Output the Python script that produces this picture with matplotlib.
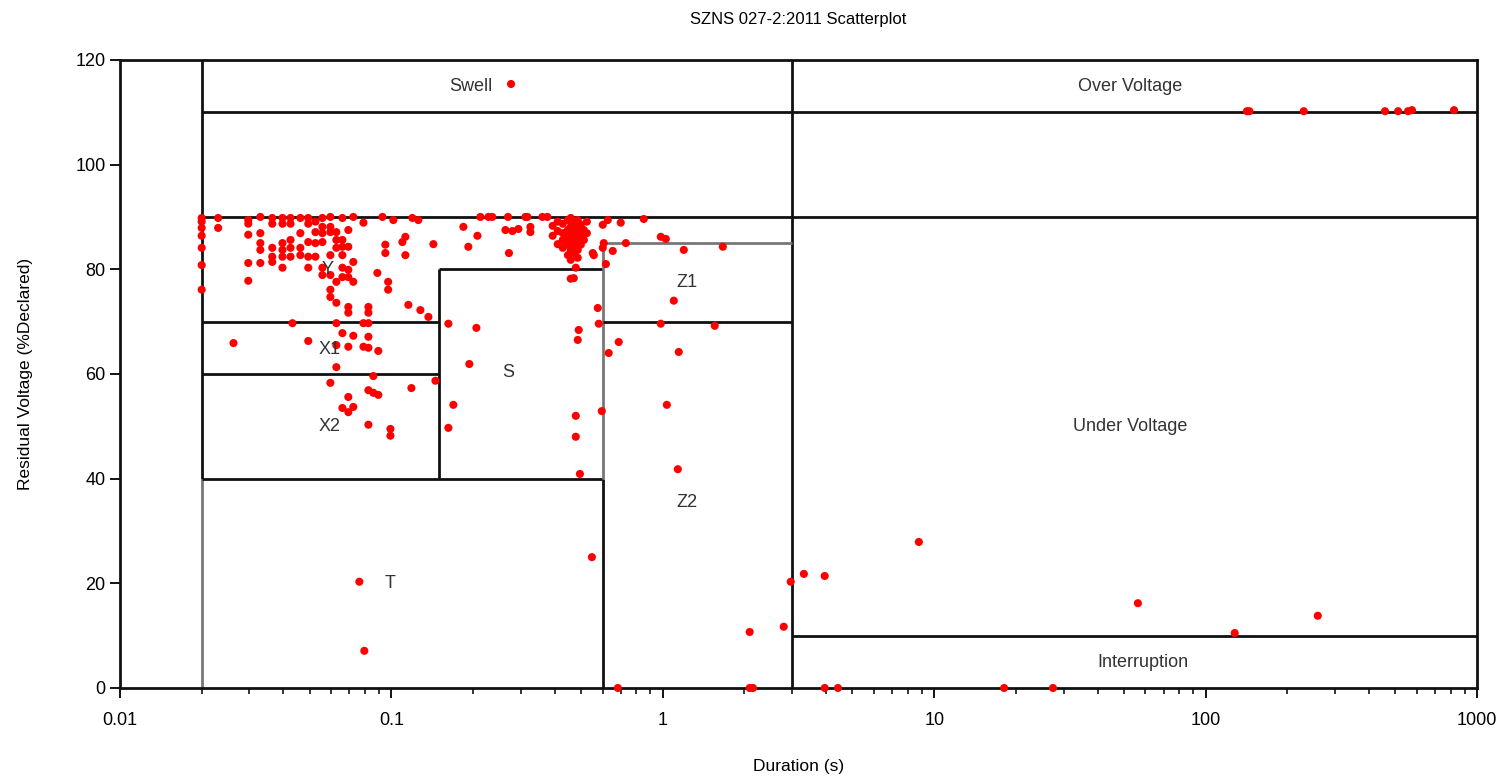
import numpy as np
import matplotlib.pyplot as plt

plt.rcParams['font.family'] = ['Liberation Sans', 'DejaVu Sans']

# event durations (s) and residual voltages (% declared)
dur = [
    0.02, 0.02, 0.02, 0.02, 0.02, 0.02, 0.02,
    0.023, 0.023, 0.0262,
    0.0297, 0.0297, 0.0297, 0.0297, 0.0297,
    0.0329, 0.0329, 0.0329, 0.0329, 0.0329,
    0.0364, 0.0364, 0.0364, 0.0364, 0.0364,
    0.0397, 0.0397, 0.0397, 0.0397, 0.0397, 0.0397,
    0.0425, 0.0425, 0.0425, 0.0425, 0.0425, 0.0432,
    0.0462, 0.0462, 0.0462, 0.0462,
    0.0494, 0.0494, 0.0494, 0.0494, 0.0494, 0.0494,
    0.0525, 0.0525, 0.0525, 0.0525,
    0.0557, 0.0557, 0.0557, 0.0557, 0.0557, 0.0557,
    0.0596, 0.0596, 0.0596, 0.0596, 0.0596, 0.0596, 0.0596, 0.0596,
    0.0627, 0.0627, 0.0627, 0.0627, 0.0627, 0.0627, 0.0627, 0.0627,
    0.066, 0.066, 0.066, 0.066, 0.066, 0.066, 0.066, 0.066,
    0.0694, 0.0694, 0.0694, 0.0694, 0.0694, 0.0694, 0.0694, 0.0694, 0.0694,
    0.0724, 0.0724, 0.0724, 0.0724, 0.0724,
    0.0762, 0.0789, 0.0789, 0.0789, 0.0795,
    0.0823, 0.0823, 0.0823, 0.0823, 0.0823, 0.0823, 0.0823,
    0.0858, 0.0858, 0.0888, 0.0895, 0.0895, 0.0927, 0.095, 0.095,
    0.0973, 0.0973, 0.0992, 0.0992, 0.1017, 0.1098, 0.1126, 0.1126,
    0.1155, 0.1185, 0.1195, 0.1257, 0.1279, 0.1369, 0.1428, 0.1453,
    0.1622, 0.1622, 0.1692, 0.1842, 0.1921, 0.1937, 0.2057, 0.2075,
    0.2128, 0.2278, 0.2354, 0.2631, 0.269, 0.2711, 0.2792, 0.2938,
    0.3118, 0.3172, 0.3252, 0.3252, 0.3601, 0.3757,
    0.393, 0.393, 0.41, 0.41, 0.41,
    0.428, 0.428, 0.428, 0.428,
    0.447, 0.447, 0.447, 0.447, 0.447,
    0.458, 0.458, 0.458, 0.458, 0.458, 0.458, 0.458,
    0.47, 0.47, 0.47, 0.47, 0.47, 0.47,
    0.478, 0.478, 0.478, 0.478, 0.478, 0.478,
    0.486, 0.486, 0.486, 0.486, 0.486, 0.486,
    0.499, 0.499, 0.499, 0.512, 0.512, 0.525, 0.525,
    0.49, 0.495, 0.548, 0.552, 0.557, 0.576, 0.581, 0.596,
    0.601, 0.601, 0.606, 0.617, 0.627, 0.632, 0.654, 0.683, 0.688,
    0.7, 0.731, 0.851, 0.983, 0.983, 1.026, 1.035, 1.098, 1.136,
    1.145, 1.195, 1.554, 1.664, 2.09, 2.09, 2.15, 2.79, 2.96,
    3.31, 3.95, 3.95, 4.42, 8.78, 18.1, 27.4, 56.3, 128, 259,
    142, 145, 230, 458, 512, 557, 576, 823, 0.276,
]
volt = [
    89.8, 89.1, 87.9, 86.4, 84.1, 80.8, 76.1,
    89.8, 87.9, 65.9,
    89.4, 88.7, 86.6, 81.2, 77.8,
    90.0, 86.9, 85.0, 83.7, 81.2,
    89.8, 88.7, 84.1, 82.4, 81.4,
    89.8, 88.7, 85.0, 83.7, 82.4, 80.3,
    89.8, 88.7, 85.6, 84.1, 82.4, 69.7,
    89.8, 86.9, 84.1, 82.7,
    89.8, 88.7, 85.2, 82.4, 80.3, 66.3,
    89.1, 87.1, 85.0, 82.4,
    89.8, 88.1, 86.9, 85.2, 80.3, 78.9,
    90.0, 88.1, 87.1, 82.7, 78.9, 76.1, 74.7, 58.3,
    87.1, 85.6, 84.1, 77.6, 73.6, 69.7, 65.5, 61.3,
    89.8, 85.6, 84.3, 82.7, 80.3, 78.5, 67.8, 53.5,
    87.5, 84.3, 79.9, 78.5, 72.8, 71.7, 65.2, 55.6, 52.7,
    90.0, 81.4, 77.6, 67.3, 53.7,
    20.3, 88.9, 69.7, 65.2, 7.1,
    72.8, 71.7, 69.7, 67.1, 65.0, 56.9, 50.3,
    59.6, 56.4, 79.3, 64.4, 56.0, 90.0, 84.7, 83.1,
    77.6, 76.1, 49.5, 48.2, 89.4, 85.2, 86.2, 82.7,
    73.2, 57.3, 89.8, 89.4, 72.2, 70.9, 84.8, 58.7,
    69.6, 49.7, 54.1, 88.1, 84.3, 61.9, 68.8, 86.4,
    90.0, 90.0, 90.0, 87.5, 90.0, 83.1, 87.3, 87.7,
    90.0, 90.0, 88.1, 87.1, 90.0, 90.0,
    88.3, 86.4, 89.1, 87.3, 84.8,
    88.7, 86.9, 85.6, 84.1,
    89.4, 87.5, 86.0, 84.7, 82.7,
    89.8, 88.1, 86.6, 85.0, 83.7, 81.8, 78.2,
    89.1, 87.1, 85.6, 84.3, 83.1, 78.3,
    87.9, 86.4, 84.8, 80.3, 52.0, 48.0,
    89.4, 87.5, 85.6, 83.7, 82.2, 66.5,
    88.5, 86.6, 84.7, 87.5, 85.6, 86.9, 89.1,
    68.4, 40.9, 25.0, 83.1, 82.7, 72.6, 69.6, 52.9,
    88.5, 84.1, 85.0, 81.0, 89.4, 64.0, 83.5, 0.0, 66.1,
    88.9, 85.0, 89.6, 86.2, 69.6, 85.8, 54.1, 74.0, 41.8,
    64.2, 83.7, 69.2, 84.3, 10.7, 0.0, 0.0, 11.7, 20.3,
    21.8, 21.4, 0.0, 0.0, 27.9, 0.0, 0.0, 16.2, 10.5, 13.8,
    110.2, 110.2, 110.2, 110.2, 110.2, 110.2, 110.4, 110.4, 115.4,
]

# zone labels and where they sit (duration, voltage)
zone_names = ['Swell', 'Over Voltage', 'Y', 'X1', 'X2', 'S', 'T',
              'Z1', 'Z2', 'Under Voltage', 'Interruption']
zone_x = [0.196, 52.6, 0.058, 0.059, 0.059, 0.269, 0.099, 1.23, 1.23, 52.6, 58.7]
zone_y = [115, 115, 80, 64.6, 49.9, 60.2, 20, 77.4, 35.5, 49.9, 4.8]

# zone boundary segments: (x0, x1, y0, y1, colour)
black = '#111111'
grey = '#777777'
bounds = [
    (0.02, 1000, 110, 110, black),
    (0.02, 1000, 90, 90, black),
    (0.02, 0.02, 40, 120, black),
    (0.02, 0.02, 0, 40, grey),
    (3, 3, 0, 120, black),
    (0.02, 0.15, 70, 70, black),
    (0.02, 0.15, 60, 60, black),
    (0.02, 0.6, 40, 40, black),
    (0.15, 0.15, 40, 80, black),
    (0.15, 0.6, 80, 80, black),
    (0.6, 0.6, 0, 40, black),
    (0.6, 0.6, 40, 85, grey),
    (0.6, 3, 85, 85, grey),
    (0.6, 3, 70, 70, black),
    (3, 1000, 10, 10, black),
]

fig = plt.figure(figsize=(15.11, 7.78), dpi=100)
ax = fig.add_axes([0.0794, 0.1157, 0.8981, 0.8073])

for x0, x1, y0, y1, c in bounds:
    ax.plot([x0, x1], [y0, y1], color=c, lw=2.0, solid_capstyle='butt', zorder=2)

ax.scatter(dur, volt, s=34, color='#ff0000', edgecolors='none', zorder=3, clip_on=False)

for name, zx, zy in zip(zone_names, zone_x, zone_y):
    ax.text(zx, zy, name, ha='center', va='center', fontsize=13, color='#333333', zorder=4)

ax.set_xscale('log')
ax.set_xlim(0.01, 1000)
ax.set_ylim(0, 120)
ax.set_yticks(range(0, 121, 20))
ax.set_xticks([0.01, 0.1, 1, 10, 100, 1000])
ax.set_xticklabels(['0.01', '0.1', '1', '10', '100', '1000'])
ax.tick_params(axis='both', which='major', labelsize=13, direction='out', length=7, width=1.3)
ax.tick_params(axis='x', which='minor', direction='out', length=4.5, width=1.1)
ax.tick_params(axis='x', pad=10)
for sp in ax.spines.values():
    sp.set_linewidth(2.0)
    sp.set_color(black)

ax.set_title('SZNS 027-2:2011 Scatterplot', fontsize=12, pad=26)
ax.set_ylabel('Residual Voltage (%Declared)', fontsize=12.5, labelpad=30)
ax.set_xlabel('Duration (s)', fontsize=12.5, labelpad=22)

fig.savefig('out.png', dpi=100)
